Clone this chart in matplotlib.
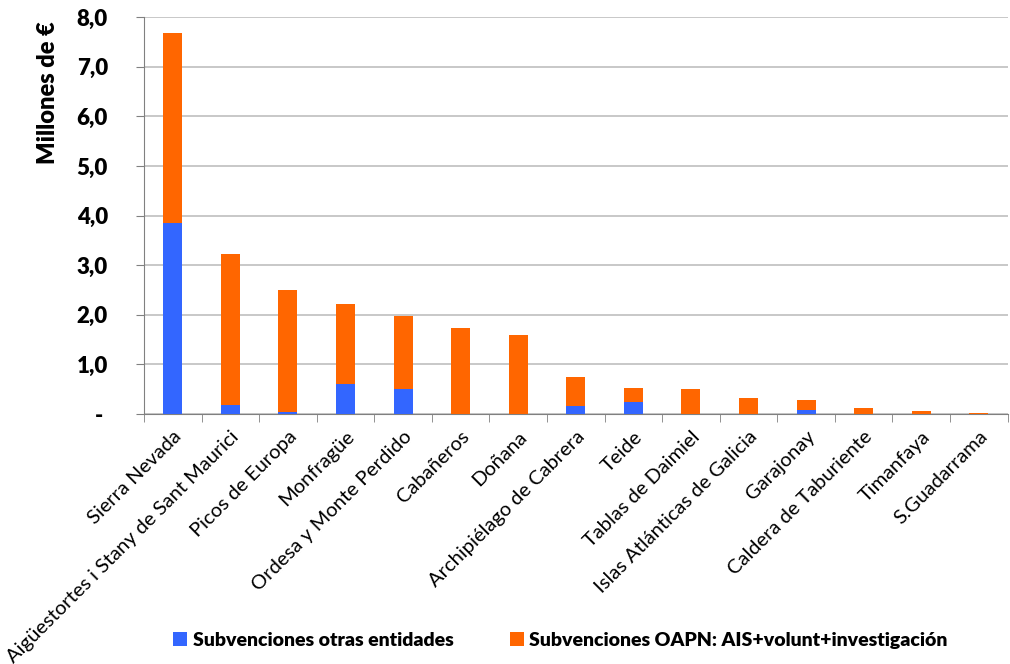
import numpy as np
import matplotlib.pyplot as plt
from matplotlib.ticker import FixedLocator

# Datos (millones de €)
parques = ["Sierra Nevada", "Aigüestortes i Stany de Sant Maurici", "Picos de Europa",
           "Monfragüe", "Ordesa y Monte Perdido", "Cabañeros", "Doñana",
           "Archipiélago de Cabrera", "Teide", "Tablas de Daimiel",
           "Islas Atlánticas de Galicia", "Garajonay", "Caldera de Taburiente",
           "Timanfaya", "S.Guadarrama"]
otras_entidades = [3.85, 0.18, 0.04, 0.61, 0.50, 0.0, 0.0, 0.155, 0.24, 0.0, 0.0, 0.09, 0.0, 0.0, 0.0]
total = [7.68, 3.22, 2.50, 2.22, 1.97, 1.73, 1.60, 0.75, 0.52, 0.50, 0.32, 0.28, 0.13, 0.06, 0.02]
oapn = [t - o for t, o in zip(total, otras_entidades)]

y_ticks = [0, 1, 2, 3, 4, 5, 6, 7, 8]
y_labels = ["- ", "1,0", "2,0", "3,0", "4,0", "5,0", "6,0", "7,0", "8,0"]

plt.rcParams['font.family'] = ['Lato', 'DejaVu Sans']

fig = plt.figure(figsize=(10.1, 6.64), dpi=100)
ax = fig.add_axes([0.1426, 0.3765, 0.855, 0.5975])

x = np.arange(len(parques))
w = 0.33
b1 = ax.bar(x, otras_entidades, w, color="#3366FF", label="Subvenciones otras entidades", zorder=3)
b2 = ax.bar(x, oapn, w, bottom=otras_entidades, color="#FF6600",
            label="Subvenciones OAPN: AIS+volunt+investigación", zorder=3)

ax.set_xlim(-0.5, len(parques) - 0.5)
ax.set_ylim(0, 8)
ax.set_yticks(y_ticks)
ax.set_yticklabels(y_labels, fontsize=16, fontweight="heavy")
ax.yaxis.grid(True, color="#BFBFBF", linewidth=1.2, zorder=0)

ax.set_xticks(x)
ax.set_xticklabels(parques, rotation=45, ha="right", rotation_mode="anchor", fontsize=14.5)
ax.tick_params(axis="x", length=0, pad=10)
ax.xaxis.set_minor_locator(FixedLocator(np.arange(-0.5, len(parques), 1)))
ax.tick_params(axis="x", which="minor", length=6, color="#808080", direction="out")
ax.tick_params(axis="y", length=6, color="#808080", direction="out", pad=20)

for s in ["top", "right"]:
    ax.spines[s].set_visible(False)
for s in ["left", "bottom"]:
    ax.spines[s].set_color("#808080")

ax.set_ylabel("Millones de €", fontsize=17, fontweight="heavy")
ax.yaxis.set_label_coords(-0.098, 0.81)

fig.legend(handles=[b1, b2], loc="center", bbox_to_anchor=(0.555, 0.036), ncol=2,
           frameon=False, handlelength=0.7, handleheight=0.7, handletextpad=0.3,
           columnspacing=2.9, prop={"size": 14, "weight": "heavy"})

fig.savefig("out.png", dpi=100)
